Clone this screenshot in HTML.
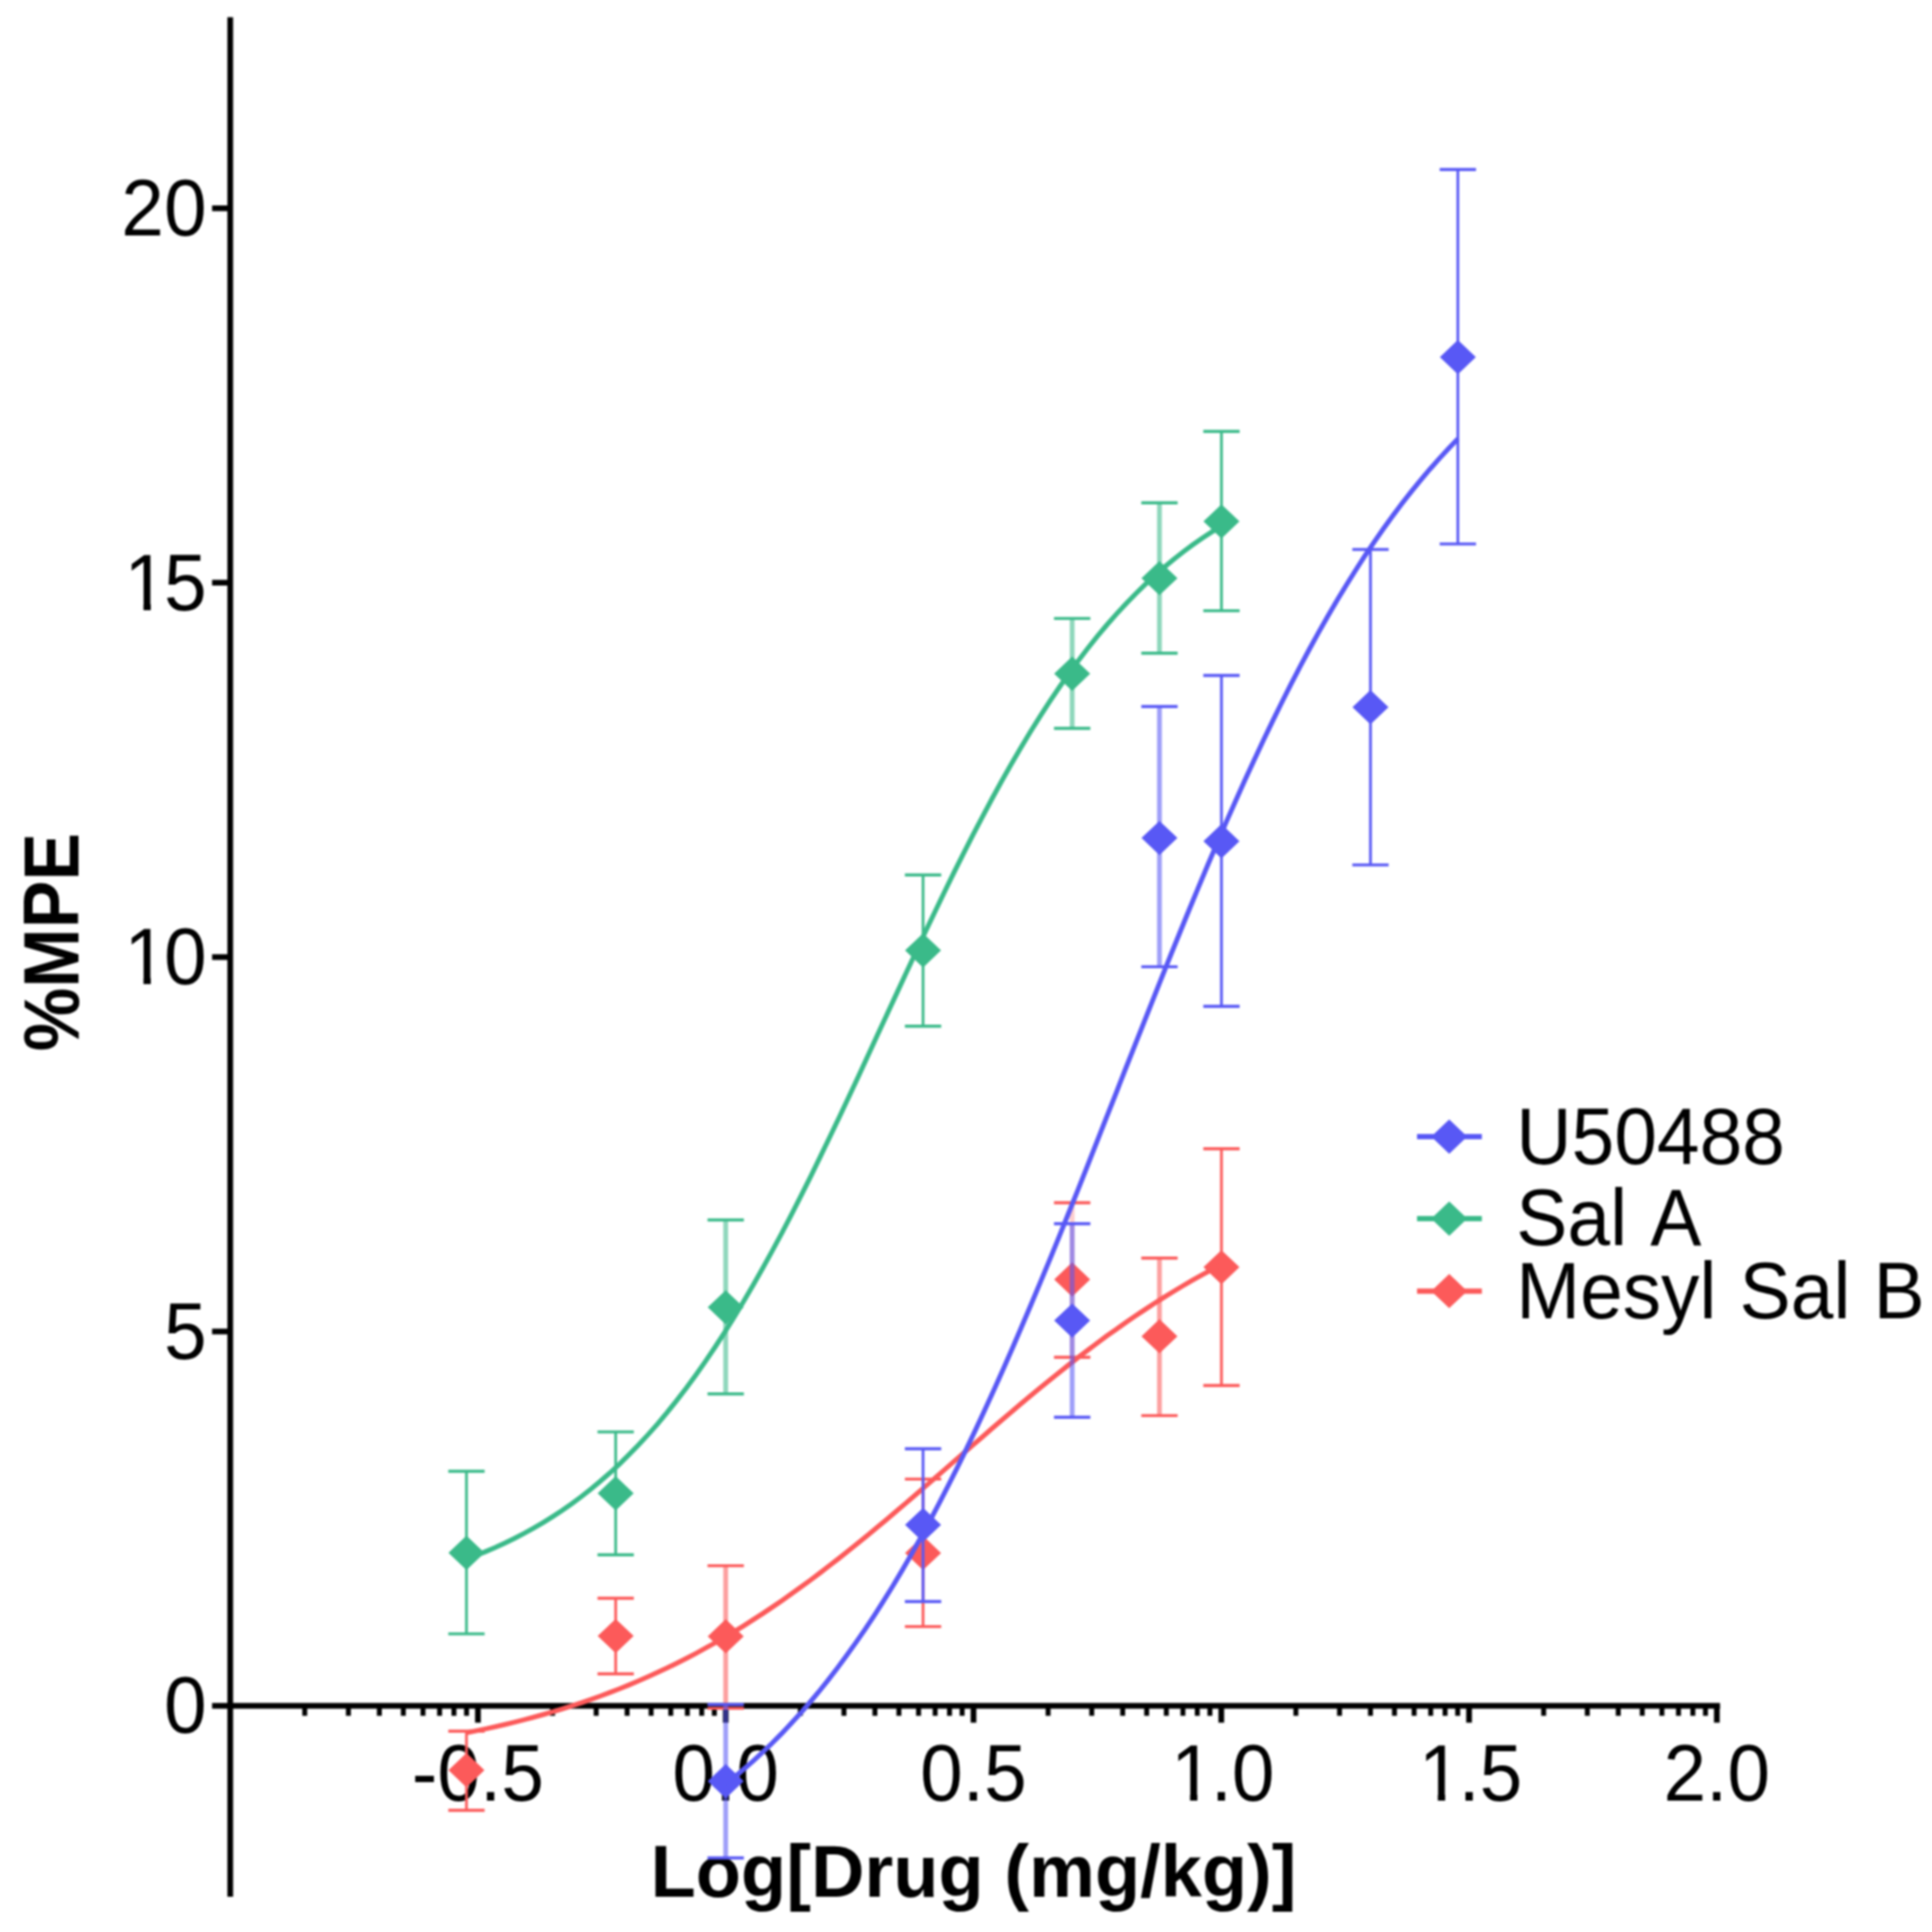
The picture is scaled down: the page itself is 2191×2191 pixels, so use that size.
<!DOCTYPE html>
<html><head><meta charset="utf-8"><title>Dose response</title>
<style>
html,body{margin:0;padding:0;background:#fff;overflow:hidden;}
svg{display:block;filter:blur(0.9px);}
text{font-family:"Liberation Sans",sans-serif;fill:#000;font-kerning:none;}
.t{font-size:87px;}
.b{font-size:84px;font-weight:bold;}
</style></head><body>
<svg width="2191" height="2191" viewBox="0 0 2191 2191">
<defs><clipPath id="one"><rect x="-4" y="-90" width="60" height="82.6"/><rect x="21.6" y="-90" width="8.3" height="92"/></clipPath></defs>
<rect width="2191" height="2191" fill="#fff"/>
<g stroke="#000" stroke-width="6.5" fill="none">
<path d="M261.1,19.5V2151"/>
<path d="M240.5,1934.6H1950.6"/>
<path d="M240.5,1510.0H261"/>
<path d="M240.5,1085.4H261"/>
<path d="M240.5,660.8H261"/>
<path d="M240.5,236.2H261"/>
</g>
<g stroke="#000" stroke-width="6" fill="none">
<path d="M345.6,1934.6V1945.8" stroke-width="5.6"/>
<path d="M395.1,1934.6V1945.8" stroke-width="5.6"/>
<path d="M430.2,1934.6V1945.8" stroke-width="5.6"/>
<path d="M457.4,1934.6V1945.8" stroke-width="5.6"/>
<path d="M479.7,1934.6V1945.8" stroke-width="5.6"/>
<path d="M498.5,1934.6V1945.8" stroke-width="5.6"/>
<path d="M514.8,1934.6V1945.8" stroke-width="5.6"/>
<path d="M529.1,1934.6V1945.8" stroke-width="5.6"/>
<path d="M542.0,1934.6V1953.6" stroke-width="6.5"/>
<path d="M626.6,1934.6V1945.8" stroke-width="5.6"/>
<path d="M676.1,1934.6V1945.8" stroke-width="5.6"/>
<path d="M711.2,1934.6V1945.8" stroke-width="5.6"/>
<path d="M738.4,1934.6V1945.8" stroke-width="5.6"/>
<path d="M760.7,1934.6V1945.8" stroke-width="5.6"/>
<path d="M779.5,1934.6V1945.8" stroke-width="5.6"/>
<path d="M795.8,1934.6V1945.8" stroke-width="5.6"/>
<path d="M810.1,1934.6V1945.8" stroke-width="5.6"/>
<path d="M823.0,1934.6V1953.6" stroke-width="6.5"/>
<path d="M907.6,1934.6V1945.8" stroke-width="5.6"/>
<path d="M957.1,1934.6V1945.8" stroke-width="5.6"/>
<path d="M992.2,1934.6V1945.8" stroke-width="5.6"/>
<path d="M1019.4,1934.6V1945.8" stroke-width="5.6"/>
<path d="M1041.7,1934.6V1945.8" stroke-width="5.6"/>
<path d="M1060.5,1934.6V1945.8" stroke-width="5.6"/>
<path d="M1076.8,1934.6V1945.8" stroke-width="5.6"/>
<path d="M1091.1,1934.6V1945.8" stroke-width="5.6"/>
<path d="M1104.0,1934.6V1953.6" stroke-width="6.5"/>
<path d="M1188.6,1934.6V1945.8" stroke-width="5.6"/>
<path d="M1238.1,1934.6V1945.8" stroke-width="5.6"/>
<path d="M1273.2,1934.6V1945.8" stroke-width="5.6"/>
<path d="M1300.4,1934.6V1945.8" stroke-width="5.6"/>
<path d="M1322.7,1934.6V1945.8" stroke-width="5.6"/>
<path d="M1341.5,1934.6V1945.8" stroke-width="5.6"/>
<path d="M1357.8,1934.6V1945.8" stroke-width="5.6"/>
<path d="M1372.1,1934.6V1945.8" stroke-width="5.6"/>
<path d="M1385.0,1934.6V1953.6" stroke-width="6.5"/>
<path d="M1469.6,1934.6V1945.8" stroke-width="5.6"/>
<path d="M1519.1,1934.6V1945.8" stroke-width="5.6"/>
<path d="M1554.2,1934.6V1945.8" stroke-width="5.6"/>
<path d="M1581.4,1934.6V1945.8" stroke-width="5.6"/>
<path d="M1603.7,1934.6V1945.8" stroke-width="5.6"/>
<path d="M1622.5,1934.6V1945.8" stroke-width="5.6"/>
<path d="M1638.8,1934.6V1945.8" stroke-width="5.6"/>
<path d="M1653.1,1934.6V1945.8" stroke-width="5.6"/>
<path d="M1666.0,1934.6V1953.6" stroke-width="6.5"/>
<path d="M1750.6,1934.6V1945.8" stroke-width="5.6"/>
<path d="M1800.1,1934.6V1945.8" stroke-width="5.6"/>
<path d="M1835.2,1934.6V1945.8" stroke-width="5.6"/>
<path d="M1862.4,1934.6V1945.8" stroke-width="5.6"/>
<path d="M1884.7,1934.6V1945.8" stroke-width="5.6"/>
<path d="M1903.5,1934.6V1945.8" stroke-width="5.6"/>
<path d="M1919.8,1934.6V1945.8" stroke-width="5.6"/>
<path d="M1934.1,1934.6V1945.8" stroke-width="5.6"/>
<path d="M1947.0,1934.6V1953.6" stroke-width="6.5"/>
</g>
<text class="t" transform="translate(185.9,1965.4) scale(1,1.035)">0</text>
<text class="t" transform="translate(185.9,1540.8) scale(1,1.035)">5</text>
<text class="t" transform="translate(141.1,1116.2) scale(1,1.035)" clip-path="url(#one)">1</text><text class="t" transform="translate(185.9,1116.2) scale(1,1.035)">0</text>
<text class="t" transform="translate(141.1,691.6) scale(1,1.035)" clip-path="url(#one)">1</text><text class="t" transform="translate(185.9,691.6) scale(1,1.035)">5</text>
<text class="t" transform="translate(137.6,267.0) scale(1,1.035)">20</text>
<text class="t" transform="translate(467.0,2042.0) scale(1,1.035)">-0.5</text>
<text class="t" transform="translate(762.5,2042.0) scale(1,1.035)">0.0</text>
<text class="t" transform="translate(1043.5,2042.0) scale(1,1.035)">0.5</text>
<text class="t" transform="translate(1328.0,2042.0) scale(1,1.035)" clip-path="url(#one)">1</text><text class="t" transform="translate(1372.9,2042.0) scale(1,1.035)">.0</text>
<text class="t" transform="translate(1609.0,2042.0) scale(1,1.035)" clip-path="url(#one)">1</text><text class="t" transform="translate(1653.9,2042.0) scale(1,1.035)">.5</text>
<text class="t" transform="translate(1886.5,2042.0) scale(1,1.035)">2.0</text>
<text class="b" x="1104" y="2150.5" text-anchor="middle">Log[Drug (mg/kg)]</text>
<text class="b" transform="translate(88.5,1068.5) rotate(-90) scale(0.965,1.05)" text-anchor="middle">%MPE</text>
<path d="M529.0,1668.5V1852.9" stroke="#3aba89" stroke-width="3.1" fill="none"/>
<path d="M508.4,1668.5H549.6M508.4,1852.9H549.6" stroke="#3aba89" stroke-width="3.4" fill="none"/>
<path d="M698.2,1623.9V1763.3" stroke="#3aba89" stroke-width="3.1" fill="none"/>
<path d="M677.6,1623.9H718.8M677.6,1763.3H718.8" stroke="#3aba89" stroke-width="3.4" fill="none"/>
<path d="M823.0,1383.5V1580.7" stroke="#3aba89" stroke-width="5.4" stroke-opacity="0.58" fill="none"/>
<path d="M802.4,1383.5H843.6M802.4,1580.7H843.6" stroke="#3aba89" stroke-width="3.4" fill="none"/>
<path d="M1046.8,992.2V1163.8" stroke="#3aba89" stroke-width="3.1" fill="none"/>
<path d="M1026.2,992.2H1067.4M1026.2,1163.8H1067.4" stroke="#3aba89" stroke-width="3.4" fill="none"/>
<path d="M1215.9,701.4V826.0" stroke="#3aba89" stroke-width="5.4" stroke-opacity="0.58" fill="none"/>
<path d="M1195.3,701.4H1236.5M1195.3,826.0H1236.5" stroke="#3aba89" stroke-width="3.4" fill="none"/>
<path d="M1314.9,570.3V740.8" stroke="#3aba89" stroke-width="5.4" stroke-opacity="0.58" fill="none"/>
<path d="M1294.3,570.3H1335.5M1294.3,740.8H1335.5" stroke="#3aba89" stroke-width="3.4" fill="none"/>
<path d="M1385.2,489.3V692.6" stroke="#3aba89" stroke-width="3.1" fill="none"/>
<path d="M1364.6,489.3H1405.8M1364.6,692.6H1405.8" stroke="#3aba89" stroke-width="3.4" fill="none"/>
<path d="M508.6,1761.0L529.0,1741.6L549.4,1761.0L529.0,1780.4Z" fill="#3aba89"/>
<path d="M677.8,1693.5L698.2,1674.1L718.6,1693.5L698.2,1712.9Z" fill="#3aba89"/>
<path d="M802.6,1482.6L823.0,1463.2L843.4,1482.6L823.0,1502.0Z" fill="#3aba89"/>
<path d="M1026.4,1077.8L1046.8,1058.4L1067.2,1077.8L1046.8,1097.2Z" fill="#3aba89"/>
<path d="M1195.5,764.0L1215.9,744.6L1236.3,764.0L1215.9,783.4Z" fill="#3aba89"/>
<path d="M1294.5,655.7L1314.9,636.3L1335.3,655.7L1314.9,675.1Z" fill="#3aba89"/>
<path d="M1364.8,591.3L1385.2,571.9L1405.6,591.3L1385.2,610.7Z" fill="#3aba89"/>
<path d="M529.0,1768.1 L539.8,1764.0 L550.7,1759.6 L561.5,1755.0 L572.4,1750.0 L583.2,1744.7 L594.0,1739.1 L604.9,1733.2 L615.7,1726.8 L626.5,1720.1 L637.4,1713.0 L648.2,1705.4 L659.1,1697.4 L669.9,1688.9 L680.7,1679.9 L691.6,1670.4 L702.4,1660.4 L713.2,1649.8 L724.1,1638.7 L734.9,1627.0 L745.8,1614.7 L756.6,1601.8 L767.4,1588.3 L778.3,1574.2 L789.1,1559.4 L799.9,1544.0 L810.8,1527.9 L821.6,1511.2 L832.5,1493.9 L843.3,1475.9 L854.1,1457.4 L865.0,1438.2 L875.8,1418.5 L886.7,1398.2 L897.5,1377.4 L908.3,1356.2 L919.2,1334.5 L930.0,1312.3 L940.8,1289.9 L951.7,1267.1 L962.5,1244.1 L973.4,1220.8 L984.2,1197.4 L995.0,1173.9 L1005.9,1150.4 L1016.7,1127.0 L1027.5,1103.6 L1038.4,1080.3 L1049.2,1057.2 L1060.1,1034.4 L1070.9,1011.9 L1081.7,989.8 L1092.6,968.1 L1103.4,946.8 L1114.3,925.9 L1125.1,905.6 L1135.9,885.9 L1146.8,866.7 L1157.6,848.1 L1168.4,830.1 L1179.3,812.7 L1190.1,796.0 L1201.0,779.9 L1211.8,764.4 L1222.6,749.6 L1233.5,735.4 L1244.3,721.8 L1255.1,708.9 L1266.0,696.5 L1276.8,684.8 L1287.7,673.6 L1298.5,663.0 L1309.3,653.0 L1320.2,643.4 L1331.0,634.4 L1341.8,625.9 L1352.7,617.8 L1363.5,610.2 L1374.4,603.1 L1385.2,596.3" stroke="#3aba89" stroke-width="5.5" fill="none"/>
<path d="M529.0,1963.3V2053.0" stroke="#fc5a5a" stroke-width="3.1" fill="none"/>
<path d="M508.4,1963.3H549.6M508.4,2053.0H549.6" stroke="#fc5a5a" stroke-width="3.4" fill="none"/>
<path d="M698.2,1812.5V1898.3" stroke="#fc5a5a" stroke-width="3.1" fill="none"/>
<path d="M677.6,1812.5H718.8M677.6,1898.3H718.8" stroke="#fc5a5a" stroke-width="3.4" fill="none"/>
<path d="M823.0,1775.6V1937.4" stroke="#fc5a5a" stroke-width="5.4" stroke-opacity="0.58" fill="none"/>
<path d="M802.4,1775.6H843.6M802.4,1937.4H843.6" stroke="#fc5a5a" stroke-width="3.4" fill="none"/>
<path d="M1046.8,1677.4V1844.6" stroke="#fc5a5a" stroke-width="3.1" fill="none"/>
<path d="M1026.2,1677.4H1067.4M1026.2,1844.6H1067.4" stroke="#fc5a5a" stroke-width="3.4" fill="none"/>
<path d="M1215.9,1364.0V1539.2" stroke="#fc5a5a" stroke-width="5.4" stroke-opacity="0.3" fill="none"/>
<path d="M1195.3,1364.0H1236.5M1195.3,1539.2H1236.5" stroke="#fc5a5a" stroke-width="3.4" fill="none"/>
<path d="M1314.9,1426.8V1605.4" stroke="#fc5a5a" stroke-width="5.4" stroke-opacity="0.58" fill="none"/>
<path d="M1294.3,1426.8H1335.5M1294.3,1605.4H1335.5" stroke="#fc5a5a" stroke-width="3.4" fill="none"/>
<path d="M1385.2,1302.8V1571.3" stroke="#fc5a5a" stroke-width="3.1" fill="none"/>
<path d="M1364.6,1302.8H1405.8M1364.6,1571.3H1405.8" stroke="#fc5a5a" stroke-width="3.4" fill="none"/>
<path d="M508.6,2007.5L529.0,1988.1L549.4,2007.5L529.0,2026.9Z" fill="#fc5a5a"/>
<path d="M677.8,1855.3L698.2,1835.9L718.6,1855.3L698.2,1874.7Z" fill="#fc5a5a"/>
<path d="M802.6,1855.7L823.0,1836.3L843.4,1855.7L823.0,1875.1Z" fill="#fc5a5a"/>
<path d="M1026.4,1761.2L1046.8,1741.8L1067.2,1761.2L1046.8,1780.6Z" fill="#fc5a5a"/>
<path d="M1195.5,1451.0L1215.9,1431.6L1236.3,1451.0L1215.9,1470.4Z" fill="#fc5a5a"/>
<path d="M1294.5,1515.4L1314.9,1496.0L1335.3,1515.4L1314.9,1534.8Z" fill="#fc5a5a"/>
<path d="M1364.8,1437.1L1385.2,1417.7L1405.6,1437.1L1385.2,1456.5Z" fill="#fc5a5a"/>
<path d="M529.0,1965.0 L539.8,1962.9 L550.7,1960.6 L561.5,1958.2 L572.4,1955.7 L583.2,1953.1 L594.0,1950.3 L604.9,1947.5 L615.7,1944.5 L626.5,1941.4 L637.4,1938.1 L648.2,1934.7 L659.1,1931.1 L669.9,1927.4 L680.7,1923.5 L691.6,1919.4 L702.4,1915.2 L713.2,1910.9 L724.1,1906.3 L734.9,1901.6 L745.8,1896.6 L756.6,1891.5 L767.4,1886.2 L778.3,1880.7 L789.1,1875.1 L799.9,1869.2 L810.8,1863.1 L821.6,1856.9 L832.5,1850.4 L843.3,1843.8 L854.1,1836.9 L865.0,1829.9 L875.8,1822.6 L886.7,1815.2 L897.5,1807.6 L908.3,1799.8 L919.2,1791.9 L930.0,1783.7 L940.8,1775.4 L951.7,1767.0 L962.5,1758.4 L973.4,1749.7 L984.2,1740.9 L995.0,1731.9 L1005.9,1722.8 L1016.7,1713.7 L1027.5,1704.5 L1038.4,1695.2 L1049.2,1685.8 L1060.1,1676.4 L1070.9,1667.0 L1081.7,1657.5 L1092.6,1648.1 L1103.4,1638.7 L1114.3,1629.3 L1125.1,1619.9 L1135.9,1610.6 L1146.8,1601.4 L1157.6,1592.2 L1168.4,1583.1 L1179.3,1574.2 L1190.1,1565.3 L1201.0,1556.6 L1211.8,1548.0 L1222.6,1539.5 L1233.5,1531.3 L1244.3,1523.1 L1255.1,1515.1 L1266.0,1507.4 L1276.8,1499.7 L1287.7,1492.3 L1298.5,1485.1 L1309.3,1478.0 L1320.2,1471.1 L1331.0,1464.5 L1341.8,1458.0 L1352.7,1451.7 L1363.5,1445.6 L1374.4,1439.8 L1385.2,1434.1" stroke="#fc5a5a" stroke-width="5.5" fill="none"/>
<path d="M823.0,1933.0V2107.0" stroke="#5858f5" stroke-width="5.4" stroke-opacity="0.58" fill="none"/>
<path d="M802.4,1933.0H843.6M802.4,2107.0H843.6" stroke="#5858f5" stroke-width="3.4" fill="none"/>
<path d="M1046.8,1643.0V1816.2" stroke="#5858f5" stroke-width="3.1" fill="none"/>
<path d="M1026.2,1643.0H1067.4M1026.2,1816.2H1067.4" stroke="#5858f5" stroke-width="3.4" fill="none"/>
<path d="M1215.9,1387.8V1607.3" stroke="#5858f5" stroke-width="5.4" stroke-opacity="0.58" fill="none"/>
<path d="M1195.3,1387.8H1236.5M1195.3,1607.3H1236.5" stroke="#5858f5" stroke-width="3.4" fill="none"/>
<path d="M1314.9,801.3V1096.4" stroke="#5858f5" stroke-width="5.4" stroke-opacity="0.58" fill="none"/>
<path d="M1294.3,801.3H1335.5M1294.3,1096.4H1335.5" stroke="#5858f5" stroke-width="3.4" fill="none"/>
<path d="M1385.2,766.0V1141.2" stroke="#5858f5" stroke-width="3.1" fill="none"/>
<path d="M1364.6,766.0H1405.8M1364.6,1141.2H1405.8" stroke="#5858f5" stroke-width="3.4" fill="none"/>
<path d="M1554.2,623.1V980.9" stroke="#5858f5" stroke-width="3.1" fill="none"/>
<path d="M1533.6,623.1H1574.8M1533.6,980.9H1574.8" stroke="#5858f5" stroke-width="3.4" fill="none"/>
<path d="M1653.3,192.3V616.9" stroke="#5858f5" stroke-width="3.1" fill="none"/>
<path d="M1632.7,192.3H1673.9M1632.7,616.9H1673.9" stroke="#5858f5" stroke-width="3.4" fill="none"/>
<path d="M802.6,2020.0L823.0,2000.6L843.4,2020.0L823.0,2039.4Z" fill="#5858f5"/>
<path d="M1026.4,1729.3L1046.8,1709.9L1067.2,1729.3L1046.8,1748.7Z" fill="#5858f5"/>
<path d="M1195.5,1497.6L1215.9,1478.2L1236.3,1497.6L1215.9,1517.0Z" fill="#5858f5"/>
<path d="M1294.5,950.3L1314.9,930.9L1335.3,950.3L1314.9,969.7Z" fill="#5858f5"/>
<path d="M1364.8,954.0L1385.2,934.6L1405.6,954.0L1385.2,973.4Z" fill="#5858f5"/>
<path d="M1533.8,802.0L1554.2,782.6L1574.6,802.0L1554.2,821.4Z" fill="#5858f5"/>
<path d="M1632.9,405.0L1653.3,385.6L1673.7,405.0L1653.3,424.4Z" fill="#5858f5"/>
<path d="M823.0,2023.2 L833.5,2014.8 L844.0,2005.9 L854.5,1996.7 L865.0,1987.0 L875.6,1976.9 L886.1,1966.3 L896.6,1955.2 L907.1,1943.7 L917.6,1931.6 L928.1,1919.1 L938.6,1906.0 L949.1,1892.4 L959.6,1878.2 L970.1,1863.5 L980.7,1848.3 L991.2,1832.5 L1001.7,1816.1 L1012.2,1799.1 L1022.7,1781.5 L1033.2,1763.4 L1043.7,1744.7 L1054.2,1725.4 L1064.7,1705.5 L1075.2,1685.1 L1085.8,1664.1 L1096.3,1642.5 L1106.8,1620.5 L1117.3,1597.9 L1127.8,1574.9 L1138.3,1551.3 L1148.8,1527.3 L1159.3,1502.9 L1169.8,1478.1 L1180.3,1453.0 L1190.9,1427.5 L1201.4,1401.7 L1211.9,1375.6 L1222.4,1349.4 L1232.9,1322.9 L1243.4,1296.3 L1253.9,1269.6 L1264.4,1242.9 L1274.9,1216.1 L1285.4,1189.4 L1296.0,1162.7 L1306.5,1136.2 L1317.0,1109.8 L1327.5,1083.6 L1338.0,1057.6 L1348.5,1031.9 L1359.0,1006.5 L1369.5,981.4 L1380.0,956.8 L1390.5,932.5 L1401.1,908.6 L1411.6,885.2 L1422.1,862.3 L1432.6,839.9 L1443.1,818.0 L1453.6,796.6 L1464.1,775.8 L1474.6,755.6 L1485.1,735.9 L1495.6,716.7 L1506.2,698.2 L1516.7,680.2 L1527.2,662.9 L1537.7,646.1 L1548.2,629.8 L1558.7,614.2 L1569.2,599.1 L1579.7,584.6 L1590.2,570.6 L1600.7,557.2 L1611.3,544.2 L1621.8,531.8 L1632.3,520.0 L1642.8,508.6 L1653.3,497.7" stroke="#5858f5" stroke-width="5.5" fill="none"/>
<path d="M1607,1289H1680.5" stroke="#5858f5" stroke-width="6" fill="none"/>
<path d="M1623.1,1289L1643.5,1269.6L1663.9,1289L1643.5,1308.4Z" fill="#5858f5"/>
<text class="t" transform="translate(1719.5,1319.7) scale(1,1.035)" style="word-spacing:2px">U50488</text>
<path d="M1607,1382H1680.5" stroke="#3aba89" stroke-width="6" fill="none"/>
<path d="M1623.1,1382L1643.5,1362.6L1663.9,1382L1643.5,1401.4Z" fill="#3aba89"/>
<text class="t" transform="translate(1719.5,1412.2) scale(1,1.035)" style="word-spacing:2px">Sal A</text>
<path d="M1607,1464.2H1680.5" stroke="#fc5a5a" stroke-width="6" fill="none"/>
<path d="M1623.1,1464.2L1643.5,1444.8L1663.9,1464.2L1643.5,1483.6000000000001Z" fill="#fc5a5a"/>
<text class="t" transform="translate(1719.5,1495.0) scale(1,1.035)" style="word-spacing:2px">Mesyl Sal B</text>
</svg></body></html>
